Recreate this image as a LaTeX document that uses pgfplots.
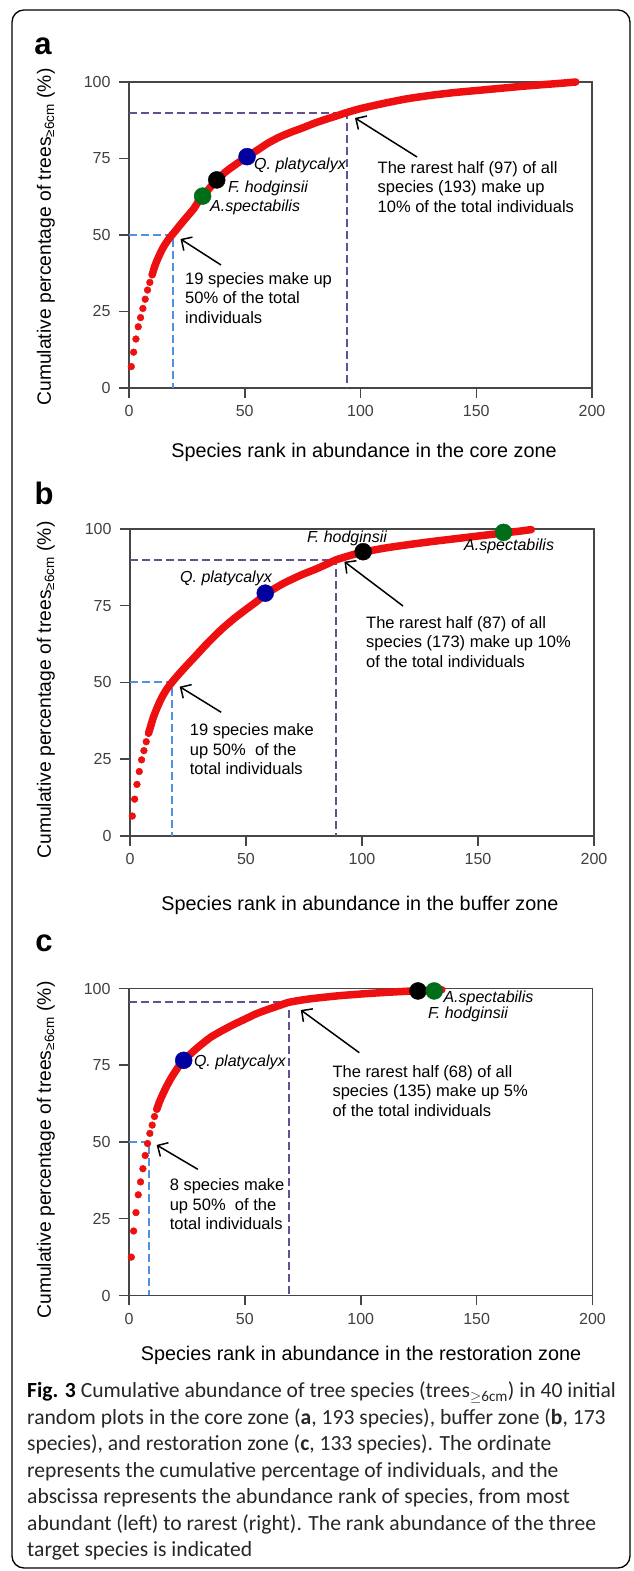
\documentclass[border=0pt]{standalone}
\usepackage{fontspec}
\setmainfont{Liberation Sans}
\newfontfamily\capfont{Carlito}
\usepackage{pgfplots}
\pgfplotsset{compat=1.18}
\usetikzlibrary{arrows.meta}

\definecolor{curvered}{RGB}{238,16,16}
\definecolor{qblue}{RGB}{0,0,160}
\definecolor{agreen}{RGB}{0,110,25}
\definecolor{dashblue}{RGB}{80,145,225}
\definecolor{dashpurple}{RGB}{100,80,145}
\definecolor{axisgray}{RGB}{70,70,70}

\pgfplotsset{
  zone/.style={
    scale only axis, clip=false,
    xmin=0, xmax=200, ymin=0, ymax=100,
    xtick={0,50,...,200}, ytick={0,25,...,100},
    tick align=outside, xtick pos=left, ytick pos=left,
    major tick length=10pt,
    axis line style={line width=1.5pt, axisgray},
    tick style={line width=1.5pt, axisgray},
    tick label style={font=\fontsize{16}{16}\selectfont, text=black!75},
    /pgf/number format/assume math mode=true,
    xticklabel style={yshift=-4pt},
    yticklabel style={xshift=-5pt},
  },
  curve/.style={curvered, line width=7.5pt, line join=round, line cap=round, smooth, tension=0.4},
  dots/.style={only marks, mark=*, mark size=3.4pt, curvered},
  target/.style={only marks, mark=*, mark size=8.5pt},
  bluedash/.style={dashblue, line width=2pt, dash pattern=on 8pt off 4pt},
  purpdash/.style={dashpurple, line width=2pt, dash pattern=on 8pt off 4pt},
}
\tikzset{
  note/.style={anchor=west, align=left, inner sep=0pt, font=\fontsize{16.5}{19.5}\selectfont},
  sp/.style={anchor=west, inner sep=0pt, font=\itshape\fontsize{16}{16}\selectfont},
  arr/.style={line width=1.5pt, -{Straight Barb[length=8pt,width=16pt,line width=1.5pt]}},
  ttl/.style={font=\fontsize{19.8}{19.8}\selectfont},
  ylab/.style={rotate=90, font=\fontsize{19.3}{19.3}\selectfont},
  panel/.style={font=\bfseries\fontsize{31}{31}\selectfont},
  capl/.style={anchor=base west, inner sep=0pt, font=\capfont\fontsize{21.6}{21.6}\selectfont, text=black!85},
}

\begin{document}
\begin{tikzpicture}
\path[use as bounding box] (0,0) rectangle (633pt,1571pt);

% ---- panel a: core zone ----
\begin{axis}[zone, at={(129pt,1183pt)}, width=463pt, height=306pt]
\addplot[bluedash] coordinates {(0,50) (19,50) (19,0)};
\addplot[purpdash] coordinates {(0,90) (94,90) (94,0)};
\addplot[curve] coordinates {
 (10,37) (11,39.5) (12,41.5) (13,43.2) (14,44.8) (15,46.2) (16,47.4) (17,48.5)
 (18,49.5) (19,50.4) (20,51.3) (22,53.2) (24,55) (26,56.8) (28,58.6) (30,61)
 (32,62.7) (35,65.5) (38,68) (42,70.8) (46,73) (51,75.6) (56,78) (60,80)
 (65,82) (70,83.6) (75,85) (80,86.5) (85,87.8) (90,89) (94,90) (100,91.3)
 (110,93) (120,94.5) (130,95.6) (140,96.5) (150,97.2) (160,97.9) (170,98.6)
 (180,99.2) (187,99.6) (193,100)};
\addplot[dots] coordinates {
 (1,7) (2,11.7) (3,16) (4,20) (5,23) (6,26) (7,29) (8,32) (9,34.5) (10,37) (11,39.5) (12,41.5)};
\addplot[target, agreen] coordinates {(31.8,62.7)};
\addplot[target, black] coordinates {(37.9,68)};
\addplot[target, qblue] coordinates {(51,75.6)};
\end{axis}

% ---- panel b: buffer zone ----
\begin{axis}[zone, at={(130pt,735pt)}, width=464pt, height=307pt]
\addplot[bluedash] coordinates {(0,50) (18.3,50) (18.3,0)};
\addplot[purpdash] coordinates {(0,90) (89,90) (89,0)};
\addplot[curve] coordinates {
 (8,33.5) (9,36) (10,38.5) (11,40.5) (12,42.3) (13,44) (14,45.5) (15,46.8)
 (16,48) (17,49) (18,50) (20,51.8) (22,53.5) (25,56) (28,58.4) (32,61.7)
 (36,64.8) (40,67.7) (45,70.9) (50,73.8) (55,76.6) (58,78.6) (65,81.8) (70,83.7) (75,85.4)
 (80,86.9) (85,88.6) (89,90) (95,91.4) (100,92.4) (110,93.8) (120,94.9)
 (130,95.9) (140,96.8) (150,97.7) (161,98.7) (168,99.3) (173,99.8)};
\addplot[dots] coordinates {
 (1,6.5) (2,12) (3,16.8) (4,21) (5,24.8) (6,27.8) (7,30.7) (8,33.5) (9,36)};
\addplot[target, qblue] coordinates {(58.3,79.1)};
\addplot[target, black] coordinates {(100.5,92.6)};
\addplot[target, agreen] coordinates {(161,98.9)};
\end{axis}

% ---- panel c: restoration zone ----
\begin{axis}[zone, at={(129pt,275.5pt)}, width=463.5pt, height=307pt]
\addplot[bluedash] coordinates {(0,50) (8.7,50) (8.7,0)};
\addplot[purpdash] coordinates {(0,95.5) (69,95.5) (69,0)};
\addplot[curve] coordinates {
 (12,60.7) (13,62.8) (14,64.6) (16,67.8) (18,70.6) (20,73) (22,75.2) (24,76.8)
 (27,79) (30,81) (35,84) (40,86.2) (45,88.2) (50,90) (55,91.8) (60,93.2)
 (65,94.5) (69,95.5) (75,96.3) (80,96.8) (90,97.6) (100,98.2) (110,98.7)
 (120,99.1) (125,99.3) (131,99.5) (135,99.6)};
\addplot[dots] coordinates {
 (1,12.5) (2,21) (3,27) (4,32.8) (5,37) (6,41.3) (7,45.6) (8,49.5) (9,52.8)
 (10,55.5) (11,58.3) (12,60.7)};
\addplot[target, qblue] coordinates {(23.6,76.6)};
\addplot[target, black] coordinates {(124.7,99.2)};
\addplot[target, agreen] coordinates {(131.7,99.2)};
\end{axis}

\begin{scope}[x=1pt, y=-1pt, yshift=1571pt]
\draw[line width=1.3pt, rounded corners=12pt] (12,10) rectangle (630,1568);

% panel a texts
\node[panel] at (43,46) {a};
\node[ylab] at (46,237) {Cumulative percentage of trees\textsubscript{≥6cm} (\%)};
\node[ttl] at (364,452) {Species rank in abundance in the core zone};
\node[sp] at (254,165) {Q. platycalyx};
\node[sp] at (228,188) {F. hodginsii};
\node[sp] at (210,207) {A.spectabilis};
\node[note] at (377.5,187) {The rarest half (97) of all\\species (193) make up\\10\% of the total individuals};
\draw[arr] (417,157) -- (355,118);
\node[note] at (185,298) {19 species make up\\50\% of the total\\individuals};
\draw[arr] (221,265) -- (180.5,239);

% panel b texts
\node[panel] at (44,493) {b};
\node[ylab] at (46,690) {Cumulative percentage of trees\textsubscript{≥6cm} (\%)};
\node[ttl] at (360,905) {Species rank in abundance in the buffer zone};
\node[sp] at (307,538) {F. hodginsii};
\node[sp] at (464,546) {A.spectabilis};
\node[sp] at (180,578) {Q. platycalyx};
\node[note] at (366,641.7) {The rarest half (87) of all\\species (173) make up 10\%\\of the total individuals};
\draw[arr] (403,606) -- (344.4,561.7);
\node[note] at (189.7,749.3) {19 species make\\up 50\%\ \ of the\\total individuals};
\draw[arr] (221.2,712.3) -- (179.7,686.7);

% panel c texts
\node[panel] at (44,943) {c};
\node[ylab] at (46,1150) {Cumulative percentage of trees\textsubscript{≥6cm} (\%)};
\node[ttl] at (361,1355) {Species rank in abundance in the restoration zone};
\node[sp] at (193.8,1062.7) {Q. platycalyx};
\node[sp] at (443.3,998.3) {A.spectabilis};
\node[sp] at (428,1014) {F. hodginsii};
\node[note] at (332.3,1090.7) {The rarest half (68) of all\\species (135) make up 5\%\\of the total individuals};
\draw[arr] (359.3,1052.7) -- (300.8,1010);
\node[note] at (169.6,1204.3) {8 species make\\up 50\%\ \ of the\\total individuals};
\draw[arr] (197.8,1169.3) -- (156.6,1145);

% caption
\node[capl] at (27,1398) {\textbf{\color{black}Fig. 3} Cumulative abundance of tree species (trees\textsubscript{$\geq$6cm}) in 40 initial};
\node[capl] at (27,1424.5) {random plots in the core zone (\textbf{a}, 193 species), buffer zone (\textbf{b}, 173};
\node[capl] at (27,1451) {species), and restoration zone (\textbf{c}, 133 species). The ordinate};
\node[capl] at (27,1477.5) {represents the cumulative percentage of individuals, and the};
\node[capl] at (27,1504) {abscissa represents the abundance rank of species, from most};
\node[capl] at (27,1530.5) {abundant (left) to rarest (right). The rank abundance of the three};
\node[capl] at (27,1557) {target species is indicated};
\end{scope}
\end{tikzpicture}
\end{document}
